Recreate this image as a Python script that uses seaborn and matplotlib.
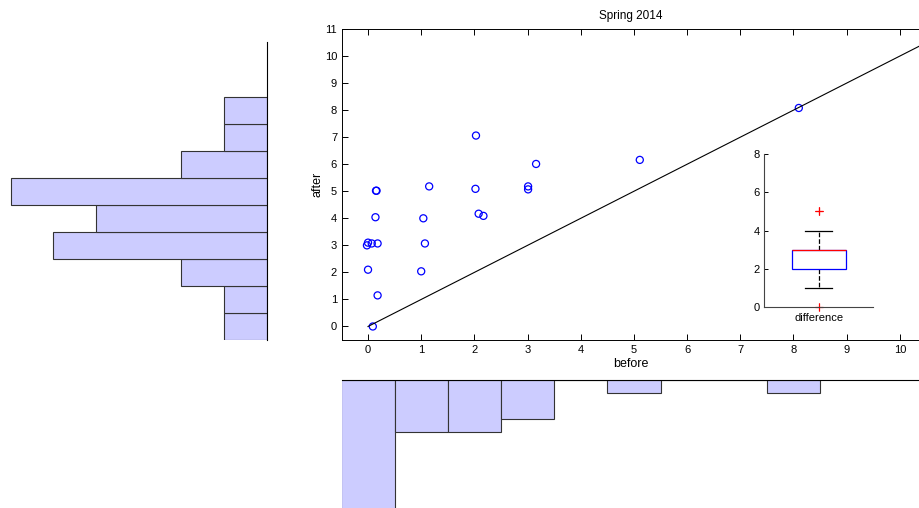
import numpy as np
import pandas as pd
import seaborn as sns
import matplotlib
matplotlib.use("Agg")
import matplotlib.pyplot as plt

# values (scatter positions carry a little jitter)
before = [0.09, 0.18, 0.00, -0.02, 0.00, 0.07, 0.18, 0.14, 0.15, 0.16,
          1.15, 1.04, 1.07, 1.00,
          2.03, 2.02, 2.08, 2.17,
          3.01, 3.01, 3.16,
          5.11, 8.10]
after = [0.00, 1.15, 2.10, 3.00, 3.10, 3.07, 3.07, 4.04, 5.02, 5.02,
         5.18, 4.00, 3.07, 2.04,
         7.06, 5.09, 4.17, 4.09,
         5.18, 5.07, 6.01,
         6.16, 8.08]
difference = [0, 1, 2, 3, 3, 3, 3, 4, 5, 5,
              4, 3, 2, 1,
              5, 3, 2, 2,
              2, 2, 3,
              1, 0]
hist_edges = np.arange(-0.5, 9.0, 1.0)
diag = [0, 11]

plt.rcParams['font.family'] = ['Liberation Sans', 'DejaVu Sans']
plt.rcParams['font.size'] = 8

data = pd.DataFrame({'before': before, 'after': after})
bar_color = '#ccccff'

fig = plt.figure(figsize=(9.19, 5.08), dpi=100)

# main scatter
ax = fig.add_axes([0.3721, 0.3307, 0.6279, 0.6122])
sns.lineplot(x=diag, y=diag, ax=ax, color='black', linewidth=0.8)
sns.scatterplot(x='before', y='after', data=data, ax=ax, marker='o', s=26,
                facecolors='none', edgecolor='blue', linewidth=0.9)
ax.set_xlim(-0.49, 10.36)
ax.set_ylim(-0.5, 11)
ax.set_xticks(range(0, 11))
ax.set_yticks(range(0, 12))
ax.tick_params(direction='in', length=4, width=0.7, top=True, labelsize=8)
ax.spines['right'].set_visible(False)
for s in ['top', 'bottom', 'left']:
    ax.spines[s].set_linewidth(0.7)
ax.set_title('Spring 2014', fontsize=8.5, pad=7)
ax.set_xlabel('before', fontsize=9, labelpad=2)
ax.set_ylabel('after', fontsize=9, labelpad=1)

# left histogram of "after"
ax_left = fig.add_axes([0.0, 0.3307, 0.2902, 0.5866])
sns.histplot(y=after, bins=hist_edges, ax=ax_left, color=bar_color, alpha=1,
             edgecolor='#333333', linewidth=0.8)
ax_left.set_xlim(6.25, 0)
ax_left.set_ylim(-0.5, 10.54)
ax_left.set_xticks([])
ax_left.set_yticks([])
ax_left.set_xlabel('')
ax_left.set_ylabel('')
for s in ['top', 'bottom', 'left']:
    ax_left.spines[s].set_visible(False)
ax_left.spines['right'].set_linewidth(0.8)
ax_left.patch.set_alpha(0)

# bottom histogram of "before"
ax_bot = fig.add_axes([0.3721, -0.053, 0.6279, 0.305])
sns.histplot(x=before, bins=hist_edges, ax=ax_bot, color=bar_color, alpha=1,
             edgecolor='#333333', linewidth=0.8)
ax_bot.set_xlim(-0.49, 10.36)
ax_bot.set_ylim(12, 0)
ax_bot.set_xticks([])
ax_bot.set_yticks([])
ax_bot.set_xlabel('')
ax_bot.set_ylabel('')
for s in ['right', 'bottom', 'left']:
    ax_bot.spines[s].set_visible(False)
ax_bot.spines['top'].set_linewidth(0.8)
ax_bot.patch.set_alpha(0)

# inset boxplot of the difference
ax_in = fig.add_axes([0.8317, 0.3951, 0.1183, 0.3018])
sns.boxplot(y=difference, ax=ax_in, width=0.5, color='white', linewidth=0.9,
            boxprops=dict(edgecolor='blue', facecolor='white', zorder=3),
            medianprops=dict(color='red', linewidth=0.9, zorder=4),
            whiskerprops=dict(color='black', linestyle='--', linewidth=0.9),
            capprops=dict(color='black', linewidth=0.9),
            flierprops=dict(marker='+', markeredgecolor='red', markersize=6,
                            markeredgewidth=0.8))
for line in ax_in.lines:
    line.set_clip_on(False)
ax_in.set_xlim(-0.5, 0.5)
ax_in.set_ylim(0, 8)
ax_in.set_yticks([0, 2, 4, 6, 8])
ax_in.set_xticks([0])
ax_in.set_xticklabels(['difference'])
ax_in.tick_params(axis='y', direction='in', length=3, width=0.7, labelsize=8)
ax_in.tick_params(axis='x', length=0, labelsize=8, pad=4)
ax_in.spines['top'].set_visible(False)
ax_in.spines['right'].set_visible(False)
ax_in.spines['left'].set_color('#444444')
ax_in.spines['bottom'].set_color('#444444')
ax_in.set_ylabel('')

fig.savefig('out.png', dpi=100)
